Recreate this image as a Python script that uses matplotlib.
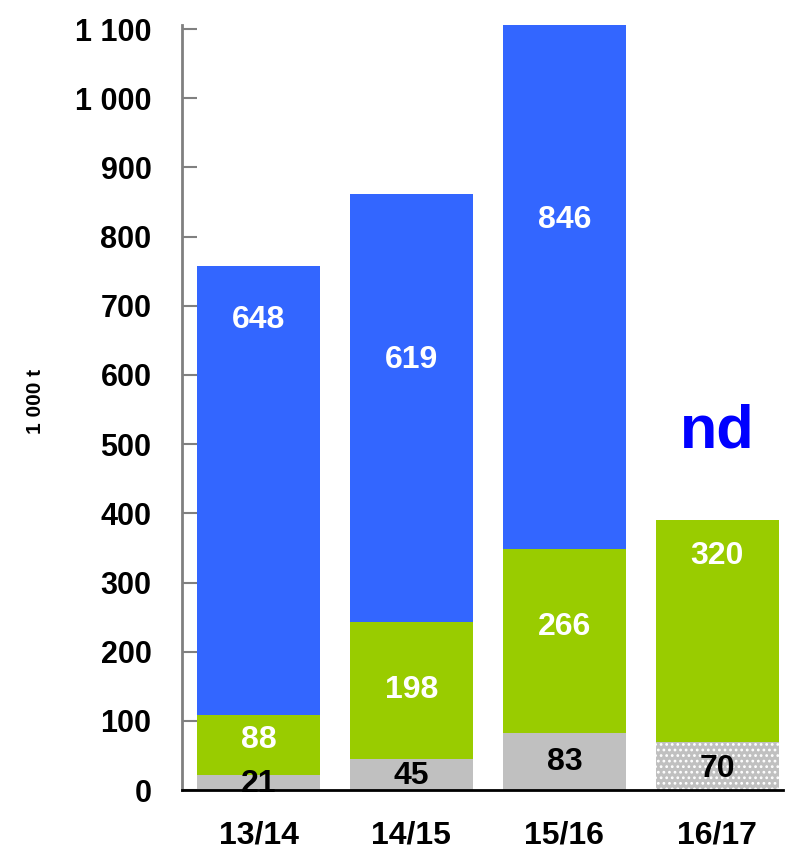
import matplotlib
matplotlib.use("Agg")
import matplotlib.pyplot as plt

plt.rcParams['font.family'] = ['Liberation Sans', 'DejaVu Sans']
plt.rcParams['hatch.linewidth'] = 1.2

categories = ["13/14", "14/15", "15/16", "16/17"]
gray_vals = [21, 45, 83, 70]
green_vals = [88, 198, 266, 320]
blue_vals = [648, 619, 846, None]
yticks = [0, 100, 200, 300, 400, 500, 600, 700, 800, 900, 1000, 1100]
ytick_labels = ["0", "100", "200", "300", "400", "500", "600", "700", "800", "900", "1 000", "1 100"]

# label positions (data units)
gray_label_y = [8, 20, 40, 31]
green_label_y = [72, 145, 236, 338]
blue_label_y = [679, 621, 824]

fig = plt.figure(figsize=(7.87, 8.55), dpi=100)
ax = fig.add_axes([0.2313, 0.0760, 0.995 - 0.2313, 0.9708 - 0.0760])

x = list(range(len(categories)))
w = 0.804
GRAY = "#C0C0C0"
GREEN = "#99CC00"
BLUE = "#3366FF"

for i in x:
    if i == 3:
        ax.bar(i, gray_vals[i], w, color=GRAY, edgecolor="white", linewidth=0, hatch="...")
    else:
        ax.bar(i, gray_vals[i], w, color=GRAY, linewidth=0)
    ax.bar(i, green_vals[i], w, bottom=gray_vals[i], color=GREEN, linewidth=0)
    if blue_vals[i] is not None:
        ax.bar(i, blue_vals[i], w, bottom=gray_vals[i] + green_vals[i], color=BLUE, linewidth=0)

for i in x:
    ax.text(i, gray_label_y[i], str(gray_vals[i]), ha="center", va="center",
            fontsize=23, fontweight="bold", color="black", clip_on=False)
    ax.text(i, green_label_y[i], str(green_vals[i]), ha="center", va="center",
            fontsize=23, fontweight="bold", color="white")
    if blue_vals[i] is not None:
        ax.text(i, blue_label_y[i], str(blue_vals[i]), ha="center", va="center",
                fontsize=23, fontweight="bold", color="white")
    else:
        ax.text(i, 517, "nd", ha="center", va="center", fontsize=44,
                fontweight="bold", color="#0000FF")

ax.set_xlim(-0.5, 3.43)
ax.set_ylim(0, 1106)
ax.set_yticks(yticks)
ax.set_yticklabels(ytick_labels, fontsize=22, fontweight="bold")
ax.set_xticks(x)
ax.set_xticklabels(categories, fontsize=23, fontweight="bold")
ax.tick_params(axis="y", direction="in", length=11, width=1.5, color="#808080", pad=22)
ax.tick_params(axis="x", length=0, pad=22)

for s in ["top", "right"]:
    ax.spines[s].set_visible(False)
ax.spines["left"].set_color("#808080")
ax.spines["left"].set_linewidth(2)
ax.spines["bottom"].set_color("black")
ax.spines["bottom"].set_linewidth(2)

fig.text(0.0445, 0.531, "1 000 t", rotation=90, ha="center", va="center",
         fontsize=15, fontweight="bold")

fig.savefig("out.png", dpi=100)
